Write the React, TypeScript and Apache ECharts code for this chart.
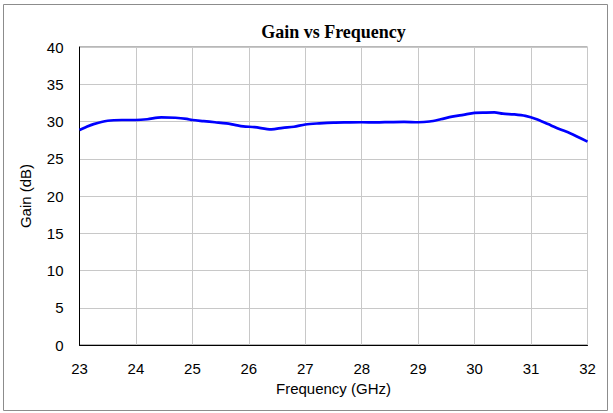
import React, { useEffect, useRef } from "react";
import * as echarts from "echarts";

const freqGHz = [
  23.0, 23.1, 23.25, 23.5, 23.75, 24.0, 24.2, 24.45, 24.7, 24.9, 25.0, 25.2, 25.4, 25.6, 25.75,
  25.9, 26.1, 26.4, 26.6, 26.8, 27.0, 27.25, 27.5, 27.75, 28.0, 28.25, 28.5, 28.75, 29.0, 29.2,
  29.4, 29.6, 29.8, 30.0, 30.2, 30.35, 30.5, 30.7, 30.9, 31.1, 31.3, 31.5, 31.7, 31.85, 32.0,
];
const gainDb = [
  28.85, 29.2, 29.65, 30.1, 30.2, 30.2, 30.3, 30.55, 30.5, 30.35, 30.2, 30.05, 29.9, 29.75, 29.55,
  29.35, 29.25, 28.95, 29.15, 29.3, 29.6, 29.75, 29.85, 29.88, 29.9, 29.88, 29.92, 29.95, 29.9, 30.0,
  30.3, 30.65, 30.9, 31.15, 31.2, 31.22, 31.05, 30.95, 30.75, 30.3, 29.65, 29.0, 28.4, 27.85, 27.3,
];

const titleText = "Gain vs Frequency";
const xAxisTitle = "Frequency (GHz)";
const yAxisTitle = "Gain (dB)";

export default function App() {
  const ref = useRef<HTMLDivElement>(null);
  useEffect(() => {
    document.body.style.margin = "0";
    const chart = echarts.init(ref.current!, null, { renderer: "svg" });
    const data = freqGHz.map((f, i) => [f, gainDb[i]]);
    const axisFont = { fontFamily: "Liberation Sans", fontSize: 15, color: "#000" };
    chart.setOption({
      animation: false,
      backgroundColor: "#ffffff",
      graphic: [
        {
          type: "rect",
          shape: { x: 3.5, y: 4.5, width: 604, height: 406 },
          style: { fill: "none", stroke: "#8c8c8c", lineWidth: 1 },
          silent: true,
        },
        {
          type: "text",
          x: 333.5,
          y: 32,
          silent: true,
          style: {
            text: titleText,
            fontFamily: "Liberation Serif",
            fontWeight: "bold",
            fontSize: 18,
            fill: "#000",
            align: "center",
            verticalAlign: "middle",
          },
        },
      ],
      grid: {
        left: 79.5,
        top: 47,
        right: 25.5,
        bottom: 68,
        show: true,
        borderColor: "#707070",
        borderWidth: 1,
      },
      xAxis: {
        type: "value",
        min: 23,
        max: 32,
        interval: 1,
        name: xAxisTitle,
        nameLocation: "middle",
        nameGap: 34,
        nameTextStyle: axisFont,
        axisLine: { show: true, lineStyle: { color: "#000", width: 1 } },
        axisTick: { show: false },
        axisLabel: { margin: 16, ...axisFont },
        splitLine: { show: true, lineStyle: { color: "#c8c8c8", width: 1 } },
      },
      yAxis: {
        type: "value",
        min: 0,
        max: 40,
        interval: 5,
        name: yAxisTitle,
        nameLocation: "middle",
        nameGap: 47,
        nameRotate: 90,
        nameTextStyle: axisFont,
        axisLine: { show: true, lineStyle: { color: "#000", width: 1 } },
        axisTick: { show: false },
        axisLabel: { margin: 16, ...axisFont },
        splitLine: { show: true, lineStyle: { color: "#c8c8c8", width: 1 } },
      },
      series: [
        {
          type: "line",
          data,
          showSymbol: false,
          smooth: 0.3,
          lineStyle: { color: "#0000ff", width: 2.7 },
        },
      ],
    });
    return () => chart.dispose();
  }, []);
  return (
    <div
      ref={ref}
      style={{ position: "absolute", left: 0, top: 0, width: 613, height: 413 }}
    />
  );
}
